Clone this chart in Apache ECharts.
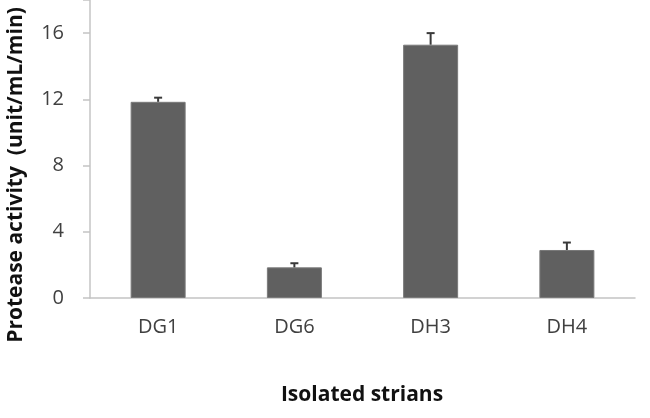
<!DOCTYPE html>
<html>
<head>
<meta charset="utf-8">
<script src="https://cdn.jsdelivr.net/npm/echarts@6/dist/echarts.min.js"></script>
<style>
  html, body { margin: 0; padding: 0; background: #fff; }
  #chart { width: 650px; height: 418px; }
</style>
</head>
<body>
<div id="chart"></div>
<script>
const strains = ["DG1", "DG6", "DH3", "DH4"];
const activity = [11.85, 1.85, 15.3, 2.9];
const errors = [0.25, 0.25, 0.7, 0.45];
const yTicks = [0, 4, 8, 12, 16];

const font = "'Open Sans', 'Noto Sans', sans-serif";
const chart = echarts.init(document.getElementById("chart"));

chart.setOption({
    animation: false,
    grid: { left: 90, right: 15, top: -2, bottom: 120 },
    xAxis: {
        type: "category",
        data: strains,
        axisLine: { lineStyle: { color: "#c4c4c4", width: 1.5 } },
        axisTick: { length: 8, lineStyle: { color: "#c4c4c4", width: 1.5 } },
        axisLabel: { margin: 19, color: "#404040", fontSize: 20, fontFamily: font }
    },
    yAxis: {
        type: "value",
        min: 0,
        max: 18,
        interval: 4,
        splitLine: { show: false },
        axisLine: { show: true, lineStyle: { color: "#c4c4c4", width: 1.5 } },
        axisTick: { show: true, length: 7, lineStyle: { color: "#c4c4c4", width: 1.5 } },
        axisLabel: {
            margin: 26,
            color: "#404040",
            fontSize: 20,
            fontFamily: font,
            formatter: v => (yTicks.includes(v) ? String(v) : "")
        }
    },
    graphic: [
        {
            type: "text",
            x: 16,
            y: 175,
            rotation: Math.PI / 2,
            style: {
                text: "Protease activity  (unit/mL/min)",
                fill: "#111",
                font: "bold 21px " + font,
                align: "center",
                verticalAlign: "middle"
            }
        },
        {
            type: "text",
            x: 362,
            y: 395,
            style: {
                text: "Isolated strians",
                fill: "#111",
                font: "bold 21px " + font,
                align: "center",
                verticalAlign: "middle"
            }
        }
    ],
    series: [
        {
            type: "bar",
            data: activity,
            barWidth: 55,
            itemStyle: { color: "#606060", borderColor: "#7a7a7a", borderWidth: 1 }
        },
        {
            type: "custom",
            data: activity.map((v, i) => [i, v, errors[i]]),
            z: 5,
            renderItem: (params, api) => {
                const i = api.value(0);
                const base = api.coord([i, api.value(1)]);
                const top = api.coord([i, api.value(1) + api.value(2)]);
                const style = { stroke: "#3a3a3a", lineWidth: 2 };
                return {
                    type: "group",
                    children: [
                        { type: "line", shape: { x1: base[0], y1: base[1], x2: top[0], y2: top[1] }, style },
                        { type: "line", shape: { x1: top[0] - 4, y1: top[1], x2: top[0] + 4, y2: top[1] }, style }
                    ]
                };
            }
        }
    ]
});
</script>
</body>
</html>
